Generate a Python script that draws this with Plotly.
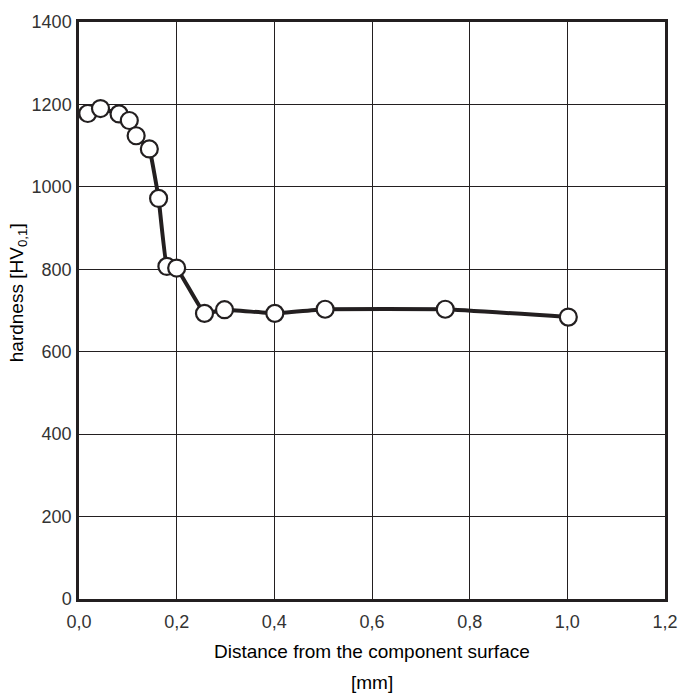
import plotly.graph_objects as go

# Data
distance_mm = [0.018, 0.044, 0.082, 0.103, 0.117, 0.144, 0.163, 0.180, 0.200,
               0.257, 0.298, 0.401, 0.504, 0.750, 1.002]
hardness_hv = [1178, 1190, 1177, 1161, 1124, 1092, 972, 807, 803,
               693, 702, 693, 703, 703, 684]

x_ticks = [0.0, 0.2, 0.4, 0.6, 0.8, 1.0, 1.2]
y_ticks = [0, 200, 400, 600, 800, 1000, 1200, 1400]

INK = "#231f20"
FONT = "Liberation Sans, Arial, sans-serif"

fig = go.Figure()
fig.add_trace(go.Scatter(
    x=distance_mm, y=hardness_hv,
    mode="lines+markers",
    line=dict(color=INK, width=4, shape="spline", smoothing=0.25),
    marker=dict(size=17, color="white", line=dict(color=INK, width=2.2)),
    showlegend=False,
))

fig.update_layout(
    width=691, height=694,
    margin=dict(l=79, r=26, t=14, b=95),
    paper_bgcolor="white", plot_bgcolor="white",
    separators=",.",
    font=dict(family=FONT, size=18, color=INK),
    annotations=[
        dict(text="Distance from the component surface", xref="paper", yref="paper",
             x=0.5, y=(599 - 652) / 585, xanchor="center", yanchor="middle",
             showarrow=False, font=dict(size=19, color="#000")),
        dict(text="[mm]", xref="paper", yref="paper",
             x=0.5, y=(599 - 684) / 585, xanchor="center", yanchor="middle",
             showarrow=False, font=dict(size=19, color="#000")),
        dict(text="hardness [HV<sub>0,1</sub>]", xref="paper", yref="paper",
             x=(18 - 79) / 586, y=(599 - 289) / 585, xanchor="center", yanchor="middle",
             textangle=-90, showarrow=False, font=dict(size=19, color="#000")),
    ],
)

fig.update_xaxes(
    range=[0, 1.2], tickvals=x_ticks, tickformat=".1f",
    showgrid=True, gridcolor=INK, gridwidth=1,
    showline=True, linecolor=INK, linewidth=2.5, mirror=True,
    ticks="outside", ticklen=5, tickcolor="rgba(0,0,0,0)",
    zeroline=False, tickfont=dict(size=18, color="#333"),
)
fig.update_yaxes(
    range=[0, 1400], tickvals=y_ticks, tickformat="d",
    showgrid=True, gridcolor=INK, gridwidth=1,
    showline=True, linecolor=INK, linewidth=2.5, mirror=True,
    ticks="outside", ticklen=1, tickcolor="rgba(0,0,0,0)",
    zeroline=False, tickfont=dict(size=18, color="#333"),
)

fig.write_html(
    "out.html",
    config={"displayModeBar": False},
    post_script="document.body.style.margin='0';document.body.style.overflow='hidden';",
)
